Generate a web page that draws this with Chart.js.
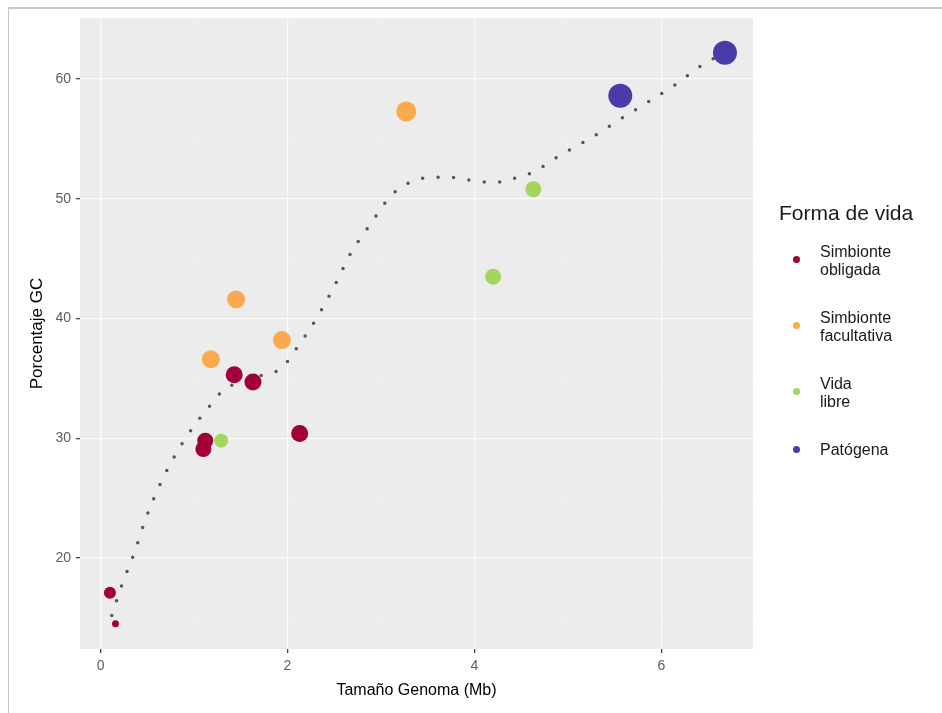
<!DOCTYPE html>
<html>
<head>
<meta charset="utf-8">
<script src="https://cdn.jsdelivr.net/npm/chart.js@4.4.1/dist/chart.umd.min.js"></script>
<style>
  html, body { margin: 0; padding: 0; background: #fff; }
  body { width: 942px; height: 713px; overflow: hidden; position: relative; font-family: "Liberation Sans", Arial, sans-serif; }
  #frame { position: absolute; left: 8px; top: 7px; right: 0; bottom: 0; border-top: 2px solid #c8c8c8; border-left: 1px solid #c8c8c8; }
  #wrap { position: absolute; left: 0; top: 0; width: 942px; height: 713px; }
  #legend { position: absolute; left: 779px; top: 201px; color: #1a1a1a; }
  #legend .title { font-size: 21px; margin-bottom: 18px; white-space: nowrap; }
  #legend .item { position: relative; padding-left: 41px; font-size: 16px; line-height: 18px; margin-bottom: 30px; }
  #legend .key { position: absolute; left: 14px; width: 7px; height: 7px; border-radius: 50%; }
</style>
</head>
<body>
<div id="frame"></div>
<div id="wrap"><canvas id="chart" width="942" height="713"></canvas></div>
<div id="legend"></div>
<script>
// Forma de vida categories
const categorias = ['Simbionte obligada', 'Simbionte facultativa', 'Vida libre', 'Patógena'];

// Tamaño genoma (Mb), porcentaje GC and point size per category
const obligadaX = [0.10, 0.16, 1.10, 1.12, 1.43, 1.63, 2.13];
const obligadaY = [17.1, 14.5, 29.1, 29.8, 35.3, 34.7, 30.4];
const obligadaT = [6, 3.5, 8, 8, 8.5, 8.5, 8.5];

const facultativaX = [3.27, 1.45, 1.18, 1.94];
const facultativaY = [57.3, 41.6, 36.6, 38.2];
const facultativaT = [10, 9, 9, 9];

const libreX = [4.63, 4.20, 1.29];
const libreY = [50.8, 43.5, 29.8];
const libreT = [8, 8, 7];

const patogenaX = [5.56, 6.68];
const patogenaY = [58.6, 62.2];
const patogenaT = [12, 12];

// smoothed trend
const curvaX = [0.12, 0.23, 0.36, 0.47, 0.61, 0.77, 0.97, 1.19, 1.31, 1.55, 1.78, 1.95, 2.04, 2.16, 2.34, 2.52, 2.68, 2.88, 3.09, 3.22, 3.39, 3.55, 3.73, 3.92, 4.11, 4.29, 4.46, 4.62, 4.93, 5.25, 5.55, 5.84, 6.16, 6.44, 6.68];
const curvaY = [15.2, 17.8, 20.4, 23.0, 25.7, 28.2, 30.7, 32.9, 34.0, 34.8, 35.4, 35.9, 36.9, 38.2, 40.4, 43.0, 45.5, 47.8, 50.1, 51.0, 51.6, 51.8, 51.8, 51.6, 51.4, 51.4, 51.8, 52.2, 53.7, 55.1, 56.6, 58.0, 59.6, 61.2, 62.2];

// axis breaks (major + minor)
const xBreaks = [0, 1, 2, 3, 4, 5, 6];
const yBreaks = [15, 20, 25, 30, 35, 40, 45, 50, 55, 60, 65];

const colores = ['#A1003A', '#FBA94F', '#A4D65E', '#4A3BAA'];

function puntos(xs, ys, ts) {
  return xs.map((x, i) => ({ x: x, y: ys[i], r: ts[i] }));
}

const series = [
  puntos(obligadaX, obligadaY, obligadaT),
  puntos(facultativaX, facultativaY, facultativaT),
  puntos(libreX, libreY, libreT),
  puntos(patogenaX, patogenaY, patogenaT)
];

const datasets = series.map((d, i) => ({
  label: categorias[i],
  data: d,
  backgroundColor: colores[i],
  borderWidth: 0,
  hoverRadius: 0
}));

datasets.push({
  type: 'line',
  label: 'tendencia',
  data: curvaX.map((x, i) => ({ x: x, y: curvaY[i] })),
  borderColor: '#555555',
  borderWidth: 3.5,
  borderDash: [0, 15.5],
  borderCapStyle: 'round',
  pointRadius: 0,
  fill: false,
  cubicInterpolationMode: 'monotone',
  order: 10
});

const panelFondo = {
  id: 'panelFondo',
  beforeDraw(chart) {
    const a = chart.chartArea;
    const ctx = chart.ctx;
    ctx.save();
    ctx.fillStyle = '#ECECEC';
    ctx.fillRect(a.left, a.top, a.right - a.left, a.bottom - a.top);
    ctx.restore();
  }
};

const tickFont = { family: '"Liberation Sans", Arial, sans-serif', size: 14 };
const titleFont = { family: '"Liberation Sans", Arial, sans-serif', size: 16 };

function esMayorX(v) { return v % 2 === 0; }
function esMayorY(v) { return v % 10 === 0; }

new Chart(document.getElementById('chart'), {
  type: 'bubble',
  data: { datasets: datasets },
  plugins: [panelFondo],
  options: {
    responsive: false,
    animation: false,
    events: [],
    layout: { padding: { left: 10, top: 18, right: 189, bottom: 0 } },
    plugins: { legend: { display: false }, tooltip: { enabled: false } },
    scales: {
      x: {
        type: 'linear',
        min: -0.22,
        max: 6.98,
        afterBuildTicks(scale) { scale.ticks = xBreaks.map(v => ({ value: v })); },
        afterFit(scale) { scale.height = 64; },
        ticks: {
          color: '#5E5E5E',
          font: tickFont,
          padding: 5,
          maxRotation: 0,
          autoSkip: false,
          callback: v => esMayorX(v) ? String(v) : ''
        },
        grid: {
          color: c => esMayorX(c.tick.value) ? 'rgba(255,255,255,0.75)' : 'rgba(255,255,255,0.4)',
          lineWidth: c => esMayorX(c.tick.value) ? 1.3 : 0.6,
          tickColor: c => esMayorX(c.tick.value) ? '#444444' : 'rgba(0,0,0,0)',
          tickLength: 4
        },
        border: { display: false },
        title: {
          display: true,
          text: 'Tamaño Genoma (Mb)',
          color: '#000',
          font: titleFont,
          padding: { top: 0, bottom: 13 }
        }
      },
      y: {
        type: 'linear',
        min: 12.4,
        max: 65.1,
        afterBuildTicks(scale) { scale.ticks = yBreaks.map(v => ({ value: v })); },
        afterFit(scale) { scale.width = 70; },
        ticks: {
          color: '#5E5E5E',
          font: tickFont,
          padding: 5,
          autoSkip: false,
          callback: v => esMayorY(v) ? String(v) : ''
        },
        grid: {
          color: c => esMayorY(c.tick.value) ? 'rgba(255,255,255,0.75)' : 'rgba(255,255,255,0.4)',
          lineWidth: c => esMayorY(c.tick.value) ? 1.3 : 0.6,
          tickColor: c => esMayorY(c.tick.value) ? '#444444' : 'rgba(0,0,0,0)',
          tickLength: 4
        },
        border: { display: false },
        title: {
          display: true,
          text: 'Porcentaje GC',
          color: '#000',
          font: { family: '"Liberation Sans", Arial, sans-serif', size: 17 },
          padding: { top: 17, bottom: 0 }
        }
      }
    }
  }
});

// legend
const leg = document.getElementById('legend');
let html = '<div class="title">Forma de vida</div>';
categorias.forEach((c, i) => {
  const lines = c.split(' ');
  const top = lines.length > 1 ? 13 : 5;
  html += '<div class="item"><span class="key" style="top:' + top + 'px;background:' + colores[i] + '"></span>' + lines.join('<br>') + '</div>';
});
leg.innerHTML = html;
</script>
</body>
</html>
